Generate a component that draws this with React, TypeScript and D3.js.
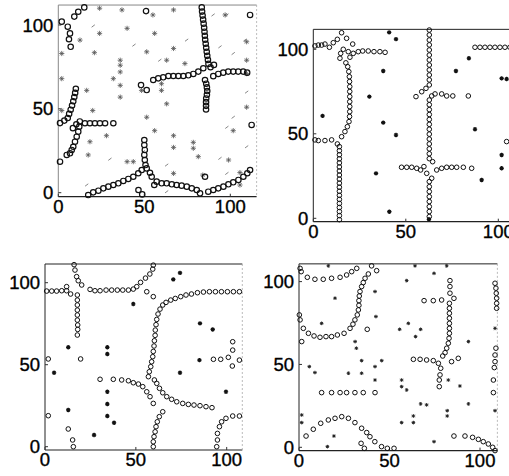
import React from 'react';
import * as d3 from 'd3';

type Pt = [number, number];

const TICKS = [0, 50, 100];

// ---- panel 1 (top-left) ----
const circles1: Pt[] = [
  [15.1,110.5],[11.6,107.9],[9.3,105],[2,102],[5.5,99],[6.8,95],[6.2,91.5],[7.2,87],
  [51,108.3],
  [83.4,110.5],[83.6,108],[83.9,105.6],[84.2,103.2],[84.5,100.8],[84.8,98.4],[85,96],[85.2,93.6],[85.4,91.2],[85.7,88.8],[86,86.4],[86.3,84],[86.6,81.6],[87,79.2],[87.3,76.8],
  [48.1,64.2],[51.4,61.2],[55.2,67.2],[58.1,68.2],[61,68.8],[64,69.6],[66.9,69.6],[69.8,69.6],[72.7,69.6],[75.6,70],[78.5,70.8],[81.4,72.2],[84.3,74.2],
  [88.5,74.8],[90.5,76.2],[90.1,69.5],[93,70.8],[95.9,71.6],[98.8,72.2],[101.7,72.2],[104.6,72.2],[107.5,72.2],[109.8,71.6],
  [85.3,67.2],[86,65],[86.4,62.8],[86.6,60.6],[86.4,58.4],[86,56.2],[85.9,54],[85.9,51.8],[85.9,49.6],
  [111.5,106],[112.4,40.4],
  [10.2,62],[9.8,59.5],[9.3,57],[8.7,54.5],[8,52],[7.2,49.5],[6.3,47],[5.5,44.5],
  [1,41.5],[3.5,43],[8.5,38.5],[10.5,40.8],[12.5,42.5],
  [15.5,41.4],[18.4,41.4],[21.3,41.4],[24.2,41.4],[27.2,41.4],[32,41.4],
  [12.2,39.4],[11.6,36.4],[10.7,33.4],[9.7,30.4],[8.7,27.4],[7.8,25.5],[6.8,23.5],[4.9,22.5],[1,18.5],
  [50,31.4],[50,28.4],[50.3,25.5],[50,22.5],[50.3,19.5],[50.7,16.5],[51.4,14.5],[53.3,11.9],[48.5,13.5],
  [46.5,11.6],[43.6,9.5],[40.7,8.2],[37.8,7],[34.9,5.6],[32,4.6],[29.1,3.6],[26.2,2.6],[23.3,1.2],[20.3,0.2],[17.4,-1.4],
  [46.6,1.6],[48.8,-1],[55.8,4.6],
  [54.3,9.5],[57.2,6.6],[60.1,5.6],[63,5.6],[66,5],[68.8,4.6],[71.7,4.2],[74.7,3.6],[77.6,2.6],[80.5,1.6],[82.4,-0.4],
  [87.2,0.6],[90.1,1.6],[93,2.6],[96,3.6],[98.9,5],[101.7,6.2],[104.7,7.6],[107.6,9.5],[109.9,11.6],[111.5,13.5],[85.3,9.5],
];
const stars1: Pt[] = [
  [24,110],[37,109],[24,95],[12.6,91],[21,83.5],[36,79],[36,76],[32,68],[36,64],[36,57],[20,49],[2,68],[2,83],[2,49],
  [28,34],[40,18.5],[43.6,18.5],[56,37],[67,34],[67,27],[78.5,30],[78.5,26.5],[48.4,61],[60,65],[60,61],[63,53],
  [67,11.5],[84,10.5],[105.6,12],[109.5,71],[109.5,79],[109.5,90],[109.5,51],[101.7,37],[73.6,77],[67,86],[56,95],
  [51.4,84],[63,79],[40,98],[55,106],[67,109],[97,106],[51.4,45],[36,72],[16.5,61],[18.4,30.4],[17.4,22.5],
  [81.4,21.5],[99,19.5],[105.6,4.6],
];
const dashes1: Pt[] = [
  [20.3,99.4],[74.6,91],[59,79],[90,106],[98,106],[108.5,91],[101.7,83],[94,87],[101.7,45],[98,39],[109.5,27.4],
  [94,20.5],[98,11.5],[63,16.5],[49.4,24.5],[16.5,4.6],[63,0.6],[109.5,60],[44,88],[30,20],
];

// ---- panel 2 (top-right) ----
const circles2: Pt[] = [
  [0.9,102],[2.7,102.5],[4.5,102.5],[6.3,103.1],[8.7,101.2],[10.8,103.9],[13,105.9],[15.3,109.8],[18,106.5],[21.3,103.1],
  [16.2,100],[14.8,97.6],[14.4,94.7],[18.9,98.6],[21.6,97.6],[19.8,95.3],[24.3,98.6],[26.7,99],[29.7,99],[32.8,98.6],[36,98.6],[38.8,98.2],
  [17.6,92],[18.6,89.7],[19.2,86.8],[19.5,83.8],[19.6,80.9],[19.7,77.9],[19.7,75],[19.7,72],[19.7,69],[19.7,66.1],[19.7,63.1],
  [19.6,60.2],[19.3,57.2],[18.4,54.2],[17.1,51.3],[15.3,48.3],
  [0.9,46.4],[2.7,46],[6.3,46],[9.9,46.4],[13,44],
  [14.1,42.4],[14.1,40],[14.1,37.6],[14.1,35.2],[14.1,32.8],[14.1,30.4],[14.1,28],[14.1,25.6],[14.1,23.2],[14.1,20.8],
  [14.1,18.4],[14.1,16],[14.1,13.6],[14.1,11.2],[14.1,8.8],[14.1,6.4],[14.1,4],[14.1,1.6],[14.1,-0.8],
  [62.7,111.4],[62.7,108.5],[62.7,105.5],[62.7,102.6],[62.7,99.6],[62.7,96.6],[62.7,93.7],[62.7,90.7],[62.7,87.8],[62.7,84.8],[62.7,81.9],[62.7,78.9],
  [60.9,76.9],[58.6,74.9],[55.5,72],
  [62.7,70],[64,72.4],[65.8,73.6],[69.4,73.6],[72.1,72.4],[75.4,72.4],[83.8,72.4],
  [62.7,67.2],[62.7,64.3],[62.7,61.4],[62.7,58.5],[62.7,55.6],[62.7,52.7],[62.7,49.8],[62.7,46.9],[62.7,44],[62.7,41.1],[62.7,38.2],[62.7,35.3],
  [64.5,33.5],
  [47.7,30.2],[50.5,30.2],[53.2,30.2],[55.9,29.6],[58,28.6],[59.8,30.6],
  [66.7,28.6],[69.4,29.6],[72.1,30.2],[74.8,30.2],[77.5,30.2],[81.1,30.2],[85.6,29.6],
  [61.3,26.6],[64,23.7],
  [62.7,21.7],[62.7,18.7],[62.7,15.8],[62.7,12.8],[62.7,9.9],[62.7,6.9],[62.7,4],[62.7,1],
  [87.4,101.2],[90.1,101.2],[92.8,101.2],[95.5,101.2],[98.2,101.2],[100.9,101.2],[103.6,101.2],[106.3,101.2],
  [104.5,45.4],
];
const stars2: Pt[] = [
  [41,110],[44.7,106],[37.8,87.2],[30.3,72],[5,60.6],[37.8,56.6],[44.7,49.3],[33.9,26.6],[41.1,3.9],[84.1,94.7],
  [77.1,87.2],[87.4,52.7],[101.8,82.8],[104.5,82.4],[101.8,37.5],[101.8,29.6],[91,22.7],[62.5,-0.6],
];

// ---- panel 3 (bottom-left) ----
const circles3: Pt[] = [
  [16,111],[16.5,107.7],[17.4,103.7],[18.3,101.2],[20.2,98.6],[11.9,95.1],[14.1,93.1],[11.9,97.6],
  [17.8,92.5],[17.8,89.4],[17.8,86.4],[17.8,83.3],[17.8,80.3],[17.8,77.2],[18,74.2],[18,71.5],[17.8,68.1],
  [0.9,94.9],[3.7,94.9],[6.4,94.9],[9.2,95.1],
  [24.8,95.9],[27.5,95.1],[30.3,95.1],[33.6,95.5],[36.7,95.5],[39.8,95.5],[42.8,95.5],[45.9,95.5],[48.6,96.1],
  [50.5,97.6],[52.6,100.2],[55.3,102.8],[57.7,105.3],[59.3,108.3],[59.6,110.7],[56,94.5],[59.6,91.5],
  [107,94.5],[103.7,94.5],[100.4,94.5],[97.1,94.5],[93.8,94.5],[90.5,94.5],[87.2,94.3],[83.9,93.9],[80.6,93.1],[77.6,92.5],
  [74.7,91.5],[71.7,90.4],[69.2,89.4],[66.6,88],[64.8,86.4],[63.3,83.9],[62.2,80.9],[61.5,77.6],[61.1,74.4],[60.7,71.1],
  [60.6,67.9],[60.2,64.6],[60,61.4],[59.6,58.1],[59.3,54.9],[58.7,51.8],[58.2,48.8],[57.4,45.7],[56.9,42.7],
  [60.2,40.7],[61.5,38.6],[63,35.6],[64.8,32.9],[67,30.5],[69.7,28.9],[72.5,27.4],[75.8,26.4],[78.9,25.8],[82,25.4],
  [85.3,25],[88.6,24.4],[91.9,23.8],
  [30.3,41.1],[37.6,41.1],[42.2,40.7],[45.9,40.2],[48.6,39],[51.4,38.2],[53.8,36.6],[56,33.5],[57.8,30.5],[59.6,26.4],
  [59.6,0],[59.6,3],[60,6.1],[60.6,9.1],[61.1,12.2],[61.8,15.2],[62.9,18.3],[64.8,21.3],
  [94.5,0],[94.9,4.1],[94.9,8.1],[96,12.2],[97.2,15.2],[99.6,17.3],[103.3,18.7],[107,18.7],
  [92.7,53.3],[96.7,53.3],[100.9,54.5],[103.3,64],[103.3,58.9],[103.1,49.2],[107,52.8],
  [1.8,53.5],[1.8,18.9],[12.8,10.8],[15.2,4.1],[15.6,0],[19.6,53.5],
];
const stars3: Pt[] = [
  [74.3,106],[70.6,102],[48.6,87],[85.3,75.2],[92.3,71.5],[12.8,60.6],[34.3,60.6],[34.3,56.5],[5,45.1],[74.3,45.1],
  [85,52.8],[99.6,33.5],[34.3,33.5],[34.3,26],[34.3,18.7],[38,14.6],[12.8,22.4],[27,7.1],
];

// ---- panel 4 (bottom-right) ----
const circles4: Pt[] = [
  [0.6,108],[1.2,106],[4.6,102.6],[8.8,101.4],[13.4,101.4],[18,102],[22.7,102.6],[26.3,104],[29.1,106],[31.9,108],[40.1,109.5],[42.9,106.6],
  [38.3,104.6],[36.5,102],[35.5,99.4],[34.6,97],[33.7,94],[33.3,91.3],[33.1,88.5],[33.1,85.7],[32.8,82.9],[32.2,79.9],[30.9,76.9],[29.8,74.3],
  [28.2,71.8],[24.9,68.8],[21.2,67.8],[18,66.8],[14.9,66.8],[11.6,66.4],[8.3,67.2],[5.2,68.8],[2.4,71.8],[0.6,76.9],[0.2,79.9],[1.5,63.8],[37.7,71.2],
  [3.9,6.8],[7.9,10.9],[12,14.5],[16.2,16.5],[19.9,17.5],[23.6,18.5],[27.3,17.5],[30.9,14.9],[34.6,11.5],[37.4,8.9],[39.2,6.4],
  [41.9,3.4],[45.6,0.4],[48.8,-0.6],[52.5,-0.6],[34.3,2.4],[36.1,-0.6],
  [12.5,33],[18,33],[22.7,33],[26.3,33],[30.9,33],[35.5,33],[42,33],
  [83.1,86.9],[83.1,83.9],[83.1,80.9],[83.1,77.9],[83.1,74.8],[83.1,71.8],[83.1,68.8],[82.9,65.8],[82.5,62.8],[81.6,59.8],[80.7,57.1],[79.4,55.1],
  [63.2,53.1],[66.9,53.1],[70.5,52.7],[74.2,52.3],[77,50.7],[78.3,47.7],[77.9,43.7],[77.5,40.6],[77.5,36.6],
  [69.1,88.5],[74.2,88.5],[78.8,88.9],[83.4,100.6],[83.4,97],[83.4,93],[85.6,89.9],[84.3,51.7],[88,53.7],
  [108.3,99],[108.8,96],[109,93],[109.2,90],[109.2,86.9],[109.2,83.9],[108.8,59.8],[108.3,55.7],[108.3,51.7],[107.9,48.1],[107.4,40.6],[107.4,33],
  [85.6,6.8],[91.7,6.8],[95.9,6],[99.1,4.8],[101.8,3.4],[104.6,2],[107,0],[108.3,-2],
];
const stars4: Pt[] = [
  [74.6,105],[42,94],[19.9,90],[12.5,74.8],[60.4,74.8],[55.6,71.2],[67.2,71.2],[64.4,66.8],[93.6,63.8],[31,63.8],
  [31.7,59.8],[34.6,52.3],[45.7,52.3],[42,48.7],[42,40.6],[5.7,48.7],[8.8,45.1],[27.3,44.7],[34.6,44.7],[56.7,40.6],
  [56.7,36.6],[59.5,34.6],[67.2,26.2],[70.5,25.6],[82.5,40.6],[88.9,37],[93.6,26.2],[81.9,22.1],[63.2,18.9],[63.2,14.9],
  [56.7,14.9],[81.9,18.9],[108.3,22.1],[108.3,71.8],[74.6,3.4],[1.5,19.5],[1.5,14.9],[19.3,6.8],[15.7,0.4],[59.5,100.6],
  [81.6,109.5],[64.1,109.5],[16.2,109.5],[42.5,78.9],
];

// pixel placement of each panel: origin, px per unit, visible extent
const panels = [
  { x0: 58.3, kx: 1.72, xMax: 115.3, y0: 192.7, ky: 1.677, yMin: -2.4, yMax: 111.9,
    circles: circles1, stars: stars1, dashes: dashes1, r: 2.7, cw: 1.2, starSize: 2.6, starColor: '#555', starWidth: 0.8, frame: '#888' },
  { x0: 313.3, kx: 1.85, xMax: 110, y0: 218.3, ky: 1.69, yMin: -2, yMax: 111.8,
    circles: circles2, stars: stars2, dashes: [] as Pt[], r: 2.3, cw: 1, starSize: 2.2, starColor: '#111', starWidth: 1.2, frame: '#222' },
  { x0: 45, kx: 1.817, xMax: 108.6, y0: 446.7, ky: 1.64, yMin: -2, yMax: 111.4,
    circles: circles3, stars: stars3, dashes: [] as Pt[], r: 2.3, cw: 1, starSize: 2.2, starColor: '#111', starWidth: 1.2, frame: '#222' },
  { x0: 299, kx: 1.81, xMax: 109.6, y0: 447.3, ky: 1.657, yMin: -2, yMax: 110.7,
    circles: circles4, stars: stars4, dashes: [] as Pt[], r: 2.3, cw: 1, starSize: 1.8, starColor: '#222', starWidth: 1, frame: '#222' },
];

const starPath = (cx: number, cy: number, s: number) => {
  const d = s * 0.7;
  return `M${cx - s},${cy}H${cx + s}M${cx},${cy - s}V${cy + s}M${cx - d},${cy - d}L${cx + d},${cy + d}M${cx - d},${cy + d}L${cx + d},${cy - d}`;
};

const Panel: React.FC<{ p: typeof panels[number] }> = ({ p }) => {
  const x = d3.scaleLinear().domain([0, 100]).range([p.x0, p.x0 + 100 * p.kx]);
  const y = d3.scaleLinear().domain([0, 100]).range([p.y0, p.y0 - 100 * p.ky]);
  const left = x(0), right = x(p.xMax), top = y(p.yMax), bottom = y(p.yMin);
  return (
    <g>
      <line x1={left} x2={right} y1={top} y2={top} stroke={p.frame} strokeWidth={1} />
      <line x1={left} x2={left} y1={top} y2={bottom} stroke={p.frame} strokeWidth={1} />
      <line x1={left} x2={right} y1={bottom} y2={bottom} stroke="#222" strokeWidth={1.2} />
      <line x1={right} x2={right} y1={top} y2={bottom} stroke="#aaa" strokeWidth={0.8} strokeDasharray="2 2" />
      {TICKS.map(t => (
        <g key={'t' + t} stroke="#000" strokeWidth={0.35}>
          <line x1={x(t)} x2={x(t)} y1={bottom} y2={bottom - 3} stroke="#333" strokeWidth={1} />
          <line x1={left} x2={left + 3} y1={y(t)} y2={y(t)} stroke="#333" strokeWidth={1} />
          <text x={x(t)} y={bottom + 16} textAnchor="middle" fontSize={18.5}>{t}</text>
          <text x={left - 5} y={y(t) + 6.5} textAnchor="end" fontSize={18.5}>{t}</text>
        </g>
      ))}
      {p.dashes.map((d, i) => (
        <line key={'d' + i} x1={x(d[0]) - 1.6} y1={y(d[1]) + 1.2} x2={x(d[0]) + 1.6} y2={y(d[1]) - 1.2}
          stroke="#666" strokeWidth={0.8} />
      ))}
      {p.stars.map((s, i) => (
        <path key={'s' + i} d={starPath(x(s[0]), y(s[1]), p.starSize)} stroke={p.starColor}
          strokeWidth={p.starWidth} fill="none" />
      ))}
      {p.circles.map((c, i) => (
        <circle key={'c' + i} cx={x(c[0])} cy={y(c[1])} r={p.r} fill="none" stroke="#111" strokeWidth={p.cw} />
      ))}
    </g>
  );
};

const App: React.FC = () => (
  <div style={{ position: 'absolute', left: 0, top: 0, width: 509, height: 476, background: '#fff' }}>
    <svg width={509} height={476} style={{ display: 'block', fontFamily: '"Liberation Sans", Arial, sans-serif' }}>
      <rect width={509} height={476} fill="#fff" />
      {panels.map((p, i) => <Panel key={i} p={p} />)}
    </svg>
  </div>
);

export default App;
